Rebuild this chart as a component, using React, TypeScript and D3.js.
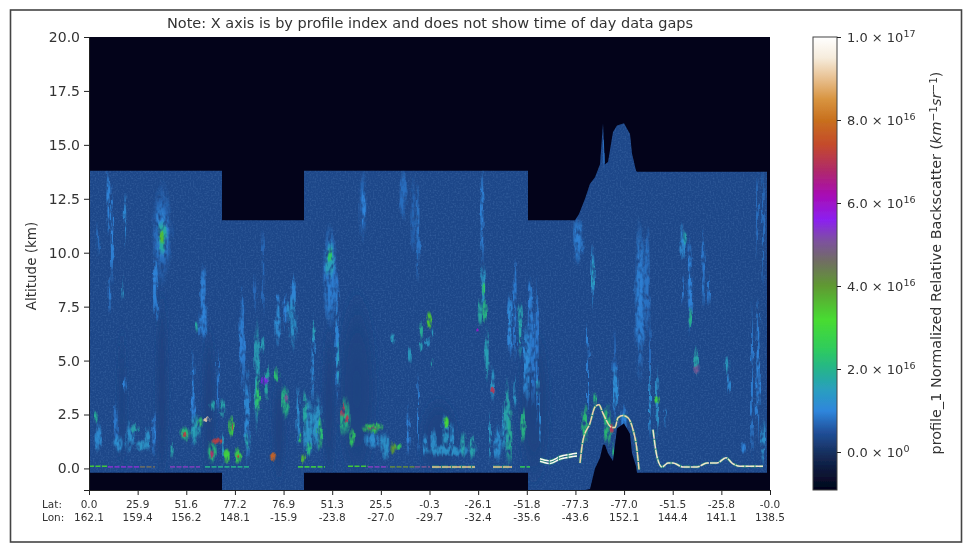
import * as d3 from "d3";
import { useEffect, useRef } from "react";

const titleText =
  "Note: X axis is by profile index and does not show time of day data gaps";

const latLabels = ["0.0", "25.9", "51.6", "77.2", "76.9", "51.3", "25.5", "-0.3", "-26.1", "-51.8", "-77.3", "-77.0", "-51.5", "-25.8", "-0.0"];
const lonLabels = ["162.1", "159.4", "156.2", "148.1", "-15.9", "-23.8", "-27.0", "-29.7", "-32.4", "-35.6", "-43.6", "152.1", "144.4", "141.1", "138.5"];
const altitudeTicks = [0, 2.5, 5, 7.5, 10, 12.5, 15, 17.5, 20];
const colorTicks = [0, 2, 4, 6, 8, 10];

// colormap, values in 1e16
const cmapValues = [-0.9, -0.4, 0, 0.5, 1, 1.5, 2, 2.5, 3.2, 4, 4.6, 5.1, 5.6, 6.2, 6.8, 7.4, 8, 8.5, 9, 9.5, 10];
const cmapColors = ["#03031a", "#0c1a3c", "#17305f", "#20509a", "#2f86dc", "#2a9ec0", "#25b48c", "#2fcc5c", "#48dc30", "#5f9a30", "#706e62", "#7d50a0", "#8c20f0", "#a80cb4", "#b02a68", "#c44a2c", "#c8701e", "#d89440", "#e8c090", "#f6ecdc", "#ffffff"];

// instrument curtain outline: profile index, top and bottom altitude (km)
const curtainProfile = [0, 133, 133, 215, 215, 439, 439, 486, 490, 496, 501, 506, 511, 514, 516, 519, 524, 528, 535, 541, 543, 547, 548, 678];
const curtainTop = [13.8, 13.8, 11.5, 11.5, 13.8, 13.8, 11.5, 11.5, 11.8, 12.5, 13.2, 13.5, 14.1, 16, 14.1, 14.2, 15.6, 15.9, 16, 15.5, 14.6, 13.8, 13.75, 13.75];
const curtainBottom = [-0.2, -0.2, -1, -1, -0.2, -0.2, -1, -1, -1, -1, -0.95, 0, 0.5, 1.1, 1.1, 0.7, 0.35, 1.85, 2.1, 1.6, 0.7, 0.1, -0.2, -0.2];
const curtainValue = 0.36;

// darker columns low in the atmosphere: profile index, base km, top km, width, value
const shadowColumns: [number, number, number, number, number][] = [
  [73, -0.2, 7.5, 9, 0.27], [120, -0.2, 6, 10, 0.28], [33, 0.2, 6, 6, 0.3], [240, -0.2, 6, 10, 0.28],
  [268, -0.2, 7.5, 30, 0.29], [190, -0.2, 4, 10, 0.28], [350, -0.2, 3, 30, 0.3], [445, -0.2, 6, 24, 0.29],
];

// cloud layers: profile index, base km, top km, width in profiles, value (1e16)
const cloudLayers: [number, number, number, number, number][] = [
  [19, 11, 13.7, 3, 1.0], [23, 8.9, 13, 2.5, 1.0], [36, 10.4, 12.6, 2.5, 1.1], [34, 7.9, 8.9, 2, 1.4], [9, 9.9, 11.3, 2.5, 0.75],
  [21, 7.3, 8.9, 2.5, 0.9], [73, 8.9, 12.9, 15, 0.75], [73, 9.8, 12.1, 10, 1.05], [73, 10, 11.4, 7, 1.9], [73, 10.4, 11, 3.5, 3.6], [66, 7.3, 9.8, 4, 1.0],
  [114, 7.3, 9.3, 5, 0.95], [114, 6, 7.8, 7, 1.0], [108, 6.3, 6.8, 3, 1.8], [174, 7.3, 10.9, 2.5, 0.75], [166, 7.3, 8.9, 2.5, 0.75], [153, 7.3, 8.4, 2.5, 0.75],
  [189, 7.3, 8.1, 3, 1.0], [204, 7.3, 8.9, 3.5, 1.05], [196, 6.5, 8, 3, 1.0], [68, 6.9, 7.8, 4, 0.85],
  [36, 3.5, 4.2, 3, 1.0], [27, 1, 3, 3, 0.9], [7, 2.1, 2.7, 3, 1.9], [9, 0.85, 2.1, 6, 1.15], [29, 0.8, 1.5, 8, 1.2], [41, 0.8, 2.1, 6, 1.25], [46, 1.7, 2.1, 6, 1.7],
  [53, 0.8, 1.3, 10, 1.35], [59, 0.85, 1.9, 4, 1.3], [65, 0.7, 2.5, 3, 0.95], [83, 0.5, 1.2, 3, 1.7],
  [96, 1.3, 1.9, 8, 2.2], [96, 1.45, 1.7, 4, 7.2], [104, 1.3, 5.2, 3, 1.0], [106, 1.2, 2.4, 8, 1.6], [111, 1.9, 2.4, 5, 2.4], [118, 2.15, 2.35, 7, 9.2],
  [129, 2.7, 5.3, 2.5, 0.9], [133, 2.4, 3.2, 4, 1.7], [124, 2.7, 3.2, 4, 1.7], [128, 1.15, 1.4, 9, 7.2], [123, 0.25, 1.2, 7, 2.2], [123, 0.5, 0.9, 3, 6.8],
  [143, 1.5, 2.4, 5, 3.0], [143, 1.8, 2.1, 2, 7.0], [138, 0.25, 0.85, 5, 3.0], [149, 0.25, 0.95, 6, 2.8], [149, 0.5, 0.7, 2.5, 7.5], [134, 0.25, 1.6, 3, 1.5],
  [158, 0.5, 4.4, 5, 1.1], [153, 4, 7.8, 5, 0.95], [158, 0.85, 1.6, 4, 1.7], [168, 2.1, 6.5, 5, 1.6], [169, 2.6, 4.2, 4, 2.4], [176, 3.9, 4.2, 6, 5.6], [178, 3.2, 4.7, 3, 1.8],
  [174, 5.35, 6.1, 3, 1.6], [189, 5.8, 7.8, 5, 1.15], [188, 4, 4.7, 4, 2.3], [196, 2.4, 3.8, 6, 2.1], [197, 3, 3.5, 3, 5.0], [204, 5.6, 7.8, 6, 1.3], [199, 6.9, 7.7, 3, 1.2],
  [209, 1.3, 3.6, 3, 1.2], [216, 1.8, 3.6, 4, 1.8], [211, 1.2, 1.6, 3, 2.4], [214, 0.25, 0.7, 4, 3.6], [219, 0.6, 1.2, 3, 2.1], [224, 5.9, 6.9, 3, 1.6],
  [184, 0.35, 0.7, 6, 7.8], [224, 3.3, 6.9, 3, 1.1], [219, 0.7, 3.2, 8, 1.35], [228, 1, 3.2, 8, 1.35], [231, 1, 2.4, 5, 2.3],
  [248, 3.3, 7.8, 3, 1.05], [249, 3.95, 5.9, 2.5, 1.5], [254, 2.4, 3, 4, 7.0], [258, 2.1, 2.5, 3, 7.0], [256, 1.65, 3.2, 8, 2.1], [263, 1, 1.8, 5, 2.5],
  [241, 6.9, 10.9, 11, 0.95], [241, 8.9, 10.4, 8, 1.6], [241, 9.6, 10.2, 4, 2.4], [248, 7.3, 9, 3, 0.9],
  [274, 10.7, 13.7, 6, 0.7], [274, 11.2, 12.9, 3, 1.0], [314, 11.6, 13.7, 6, 0.8], [324, 10.2, 13.2, 5, 0.7], [329, 9, 12.9, 3, 0.85], [393, 9.8, 13.7, 3, 0.95],
  [394, 7.5, 9.3, 4, 1.4], [394, 8.0, 8.6, 3, 2.5], [426, 7.5, 9.5, 3, 0.85], [441, 7.3, 8.8, 4, 0.9],
  [284, 1.65, 2.1, 16, 2.7], [284, 1.8, 1.95, 9, 4.6], [283, 1.0, 1.65, 12, 1.2], [296, 0.5, 1.65, 8, 1.3], [304, 0.7, 1.2, 5, 4.0], [309, 0.9, 1.15, 6, 2.6],
  [321, 4.9, 5.6, 2, 1.5], [304, 5.8, 6.2, 3, 1.5], [319, 0.7, 2.85, 3, 1.0], [329, 0.9, 4.2, 2, 0.95],
  [332, 6, 6.8, 4, 1.9], [340, 6.5, 7.2, 4, 3.4], [332, 5.5, 5.9, 3, 1.6], [339, 5.7, 6.1, 4, 1.4], [343, 4.7, 5.1, 2.5, 1.7], [344, 6.1, 6.6, 2.5, 1.5],
  [336, 0.6, 1.6, 4, 1.2], [345, 0.6, 1.8, 5, 1.25], [356, 1, 2.4, 6, 1.4], [357, 1.9, 2.4, 5, 3.2], [363, 0.6, 2.0, 4, 1.25], [374, 0.6, 1.6, 5, 1.7], [383, 0.5, 1.5, 4, 1.7], [361, 0.6, 1.05, 40, 1.3],
  [391, 6.7, 7.8, 4, 1.8], [396, 6.7, 7.8, 3, 2.1], [388, 6.3, 6.5, 3, 6.0], [398, 4.2, 6.4, 3, 1.6], [404, 3.2, 4.6, 3, 1.4], [404, 3.5, 3.8, 3, 7.0], [401, 0.4, 2.5, 2, 1.4],
  [409, 0.4, 1.9, 6, 1.2], [418, 0.5, 3.9, 4, 1.7], [414, 1, 2.8, 3, 1.4], [426, 2.85, 4.2, 3, 1.4], [421, 0.4, 2.7, 4, 1.9], [434, 1.3, 2.7, 3, 2.1],
  [431, 5.3, 7.5, 4, 1.7], [421, 5.8, 7.8, 3, 1.1], [438, 3.2, 6.4, 5, 1.1], [444, 3.2, 7.8, 3, 0.9],
  [426, 5.3, 9.4, 2.5, 0.9], [421, 5.3, 7.9, 4, 1.0], [431, 5.6, 7.5, 4, 1.5], [436, 3.5, 6.4, 3, 1.1], [441, 4.7, 8.6, 4, 0.95], [448, 2.4, 8.4, 3, 0.9], [449, 3.5, 4.2, 3, 1.5], [451, 1, 3.5, 2, 1.1],
  [489, 9.6, 11.5, 8, 0.95], [504, 7.5, 10.2, 3, 1.15], [504, 8.3, 9.8, 2.5, 1.5], [498, 5.6, 6.7, 2, 1.0], [499, 2.4, 5.6, 2, 1.0], [516, 14, 16, 2, 0.8],
  [551, 4.7, 10.9, 8, 0.95], [558, 6.6, 10.9, 5, 0.85], [561, 1.6, 6.9, 2, 0.8], [526, 2.4, 6.1, 3, 0.8], [526, 2.85, 4.6, 4, 1.15],
  [594, 9.8, 11.2, 5, 1.15], [596, 10.4, 11, 3, 1.7], [601, 6.6, 10.4, 4, 1.0], [601, 6.6, 7.4, 3, 2.0], [614, 7.7, 10.9, 3, 0.9], [620, 7.7, 8.9, 2, 0.9], [594, 7.7, 8.9, 2, 0.9],
  [607, 4.4, 5.6, 4, 1.7], [607, 4.4, 4.8, 5, 5.0], [638, 4.4, 5.2, 4, 1.5], [640, 3.5, 4.4, 2, 1.1],
  [663, 0.85, 7.3, 2, 0.95], [669, 1.65, 7.5, 3, 1.0], [674, 0.25, 2.1, 4, 1.25], [654, 0.75, 1.2, 6, 1.0], [668, 10, 13.6, 2, 0.8], [674, 8.7, 13.6, 2, 0.8],
  [561, 1.65, 4.7, 2, 1.2], [568, 1.65, 4.6, 2.5, 1.3], [568, 3.0, 3.4, 5, 3.0], [576, 1.9, 2.7, 2, 1.15], [535, 1.6, 2.85, 5, 1.0],
  [496, 1.3, 2.85, 5, 2.3], [506, 2.85, 3.5, 3, 2.2], [519, 1.2, 2.85, 7, 2.3], [522, 1.7, 2.1, 3, 7.0], [524, 0.5, 1.2, 2, 2.2], [526, 2.85, 4.7, 4, 1.15],
];

// bright surface returns: profile index / altitude pairs with their value
const surfaceTraces: { profiles: number[]; altitudes: number[]; value: number }[] = [
  { profiles: [0, 19], altitudes: [0.1, 0.1], value: 3.2 },
  { profiles: [19, 51], altitudes: [0.07, 0.07], value: 5.4 },
  { profiles: [51, 66], altitudes: [0.07, 0.07], value: 4.6 },
  { profiles: [81, 111], altitudes: [0.07, 0.07], value: 5.3 },
  { profiles: [116, 161], altitudes: [0.07, 0.07], value: 2.0 },
  { profiles: [209, 236], altitudes: [0.07, 0.07], value: 3.0 },
  { profiles: [259, 279], altitudes: [0.1, 0.1], value: 3.2 },
  { profiles: [279, 299], altitudes: [0.07, 0.07], value: 5.3 },
  { profiles: [301, 326], altitudes: [0.07, 0.07], value: 4.2 },
  { profiles: [326, 341], altitudes: [0.07, 0.07], value: 5.0 },
  { profiles: [343, 386], altitudes: [0.07, 0.07], value: 9.0 },
  { profiles: [404, 423], altitudes: [0.07, 0.07], value: 9.0 },
  { profiles: [431, 441], altitudes: [0.07, 0.07], value: 2.6 },
  { profiles: [451, 461, 471, 481, 488], altitudes: [0.45, 0.35, 0.55, 0.65, 0.7], value: 9.8 },
  { profiles: [451, 461, 471, 481, 488], altitudes: [0.33, 0.23, 0.43, 0.53, 0.58], value: 9.8 },
  { profiles: [491, 494, 501, 506, 510, 514, 523, 526, 529, 534, 539, 544, 548, 550], altitudes: [0.25, 1.3, 2.1, 2.85, 2.95, 2.55, 1.9, 1.9, 2.35, 2.45, 2.35, 1.8, 0.85, -0.05], value: 9.2 },
  { profiles: [564, 568, 573, 579, 584, 594, 608, 618, 628, 637, 643, 651, 674], altitudes: [1.8, 0.55, 0.07, 0.25, 0.25, 0.07, 0.07, 0.25, 0.25, 0.5, 0.25, 0.1, 0.1], value: 9.4 },
];

const App = () => {
  const svgRef = useRef<SVGSVGElement>(null);

  useEffect(() => {
    const width = 972;
    const height = 550;
    const plotLeft = 89;
    const plotRight = 770;
    const plotTop = 37;
    const plotBottom = 490;
    const textColor = "#333";

    const svg = d3.select(svgRef.current);
    svg.selectAll("*").remove();
    svg.attr("font-family", "'DejaVu Sans', sans-serif").attr("fill", textColor);

    const x = d3.scaleLinear().domain([0, 681]).range([plotLeft, plotRight]);
    const y = d3.scaleLinear().domain([-1, 20]).range([plotBottom, plotTop]);
    const c = d3.scaleLinear().domain([0, 10]).range([452, 37]);
    const cmap = d3
      .scaleLinear<string>()
      .domain(cmapValues)
      .range(cmapColors)
      .clamp(true);

    const defs = svg.append("defs");
    const plotRegion = (f: any) =>
      f
        .attr("filterUnits", "userSpaceOnUse")
        .attr("x", 0)
        .attr("y", 0)
        .attr("width", width)
        .attr("height", height);

    plotRegion(defs.append("filter").attr("id", "softText"))
      .append("feGaussianBlur")
      .attr("stdDeviation", 0.3);

    plotRegion(defs.append("filter").attr("id", "traceBlur"))
      .append("feGaussianBlur")
      .attr("stdDeviation", 0.45);

    plotRegion(defs.append("filter").attr("id", "shadowBlur"))
      .append("feGaussianBlur")
      .attr("stdDeviation", 2);

    // breaks the soft blobs up into streaky, grainy cloud returns
    const cloudFx = plotRegion(defs.append("filter").attr("id", "cloudFx"));
    cloudFx
      .append("feTurbulence")
      .attr("type", "fractalNoise")
      .attr("baseFrequency", "0.3 0.05")
      .attr("numOctaves", 2)
      .attr("seed", 7)
      .attr("result", "warp");
    cloudFx
      .append("feDisplacementMap")
      .attr("in", "SourceGraphic")
      .attr("in2", "warp")
      .attr("scale", 6)
      .attr("xChannelSelector", "R")
      .attr("yChannelSelector", "G")
      .attr("result", "warped");
    cloudFx
      .append("feTurbulence")
      .attr("type", "fractalNoise")
      .attr("baseFrequency", "0.28 0.14")
      .attr("numOctaves", 2)
      .attr("seed", 3);
    cloudFx
      .append("feColorMatrix")
      .attr("values", "0 0 0 0 1  0 0 0 0 1  0 0 0 0 1  3 0 0 0 -0.65")
      .attr("result", "grain");
    cloudFx
      .append("feComposite")
      .attr("in", "warped")
      .attr("in2", "grain")
      .attr("operator", "in");
    cloudFx.append("feGaussianBlur").attr("stdDeviation", 0.5);

    const speckle = plotRegion(defs.append("filter").attr("id", "speckle"));
    speckle
      .append("feTurbulence")
      .attr("type", "fractalNoise")
      .attr("baseFrequency", 0.6)
      .attr("numOctaves", 1)
      .attr("seed", 4);
    speckle
      .append("feColorMatrix")
      .attr("values", "0 0 0 0 0.3  0 0 0 0 0.55  0 0 0 0 0.9  1.4 0 0 0 -0.62");
    speckle.append("feGaussianBlur").attr("stdDeviation", 0.5);

    const gradient = defs
      .append("linearGradient")
      .attr("id", "cbar")
      .attr("x1", 0)
      .attr("x2", 0)
      .attr("y1", 1)
      .attr("y2", 0);
    cmapValues.forEach((v, i) => {
      gradient
        .append("stop")
        .attr("offset", (v + 0.9) / 10.9)
        .attr("stop-color", cmapColors[i]);
    });

    // one fading fill per cloud value
    const cloudMarks = [...shadowColumns, ...cloudLayers].sort((a, b) => a[4] - b[4]);
    const fadeId = (v: number) => `fade${Math.round(v * 100)}`;
    Array.from(new Set(cloudMarks.map((d) => d[4]))).forEach((v) => {
      const g = defs.append("radialGradient").attr("id", fadeId(v));
      g.append("stop").attr("offset", 0).attr("stop-color", cmap(v));
      g.append("stop").attr("offset", 0.55).attr("stop-color", cmap(v)).attr("stop-opacity", 0.85);
      g.append("stop").attr("offset", 1).attr("stop-color", cmap(v)).attr("stop-opacity", 0);
    });

    defs
      .append("clipPath")
      .attr("id", "plotClip")
      .append("rect")
      .attr("x", plotLeft)
      .attr("y", plotTop)
      .attr("width", plotRight - plotLeft)
      .attr("height", plotBottom - plotTop);

    // outer border of the screenshot
    svg
      .append("rect")
      .attr("x", 10.5)
      .attr("y", 10)
      .attr("width", 951)
      .attr("height", 532)
      .attr("fill", "white")
      .attr("stroke", "#444")
      .attr("stroke-width", 1.6);

    const plot = svg.append("g").attr("clip-path", "url(#plotClip)");
    plot
      .append("rect")
      .attr("x", plotLeft)
      .attr("y", plotTop)
      .attr("width", plotRight - plotLeft)
      .attr("height", plotBottom - plotTop)
      .attr("fill", cmap(-0.9));

    const curtainArea = d3
      .area<number>()
      .x((d) => x(d))
      .y0((_, i) => y(curtainBottom[i]))
      .y1((_, i) => y(curtainTop[i]));

    plot
      .append("path")
      .attr("d", curtainArea(curtainProfile))
      .attr("fill", cmap(curtainValue));

    defs
      .append("clipPath")
      .attr("id", "curtainClip")
      .append("path")
      .attr("d", curtainArea(curtainProfile));

    const inside = plot.append("g").attr("clip-path", "url(#curtainClip)");

    // noisy daytime part of the orbit
    inside
      .append("g")
      .attr("filter", "url(#speckle)")
      .attr("opacity", 0.3)
      .append("rect")
      .attr("x", x(500))
      .attr("y", plotTop)
      .attr("width", x(681) - x(500))
      .attr("height", plotBottom - plotTop);

    const cloudMark = (g: any, data: typeof cloudMarks) =>
      g
        .selectAll("ellipse")
        .data(data)
        .join("ellipse")
        .attr("cx", (d: any) => x(d[0]))
        .attr("cy", (d: any) => y((d[1] + d[2]) / 2))
        .attr("rx", (d: any) => (x(d[3]) - x(0)) * 0.72)
        .attr("ry", (d: any) => ((y(d[1]) - y(d[2])) / 2) * 1.25)
        .attr("fill", (d: any) => `url(#${fadeId(d[4])})`);

    cloudMark(inside.append("g").attr("filter", "url(#shadowBlur)"), shadowColumns);
    cloudMark(inside.append("g").attr("filter", "url(#cloudFx)"), cloudLayers.slice().sort((a, b) => a[4] - b[4]));

    const traceLine = d3
      .line<number>()
      .x((d) => x(d))
      .curve(d3.curveMonotoneX);

    const traces = plot.append("g").attr("filter", "url(#traceBlur)").attr("fill", "none");
    surfaceTraces.forEach((t) => {
      const path = traceLine.y((_, i) => y(t.altitudes[i]))(t.profiles);
      if (t.value > 8) {
        traces
          .append("path")
          .attr("d", path)
          .attr("stroke", cmap(2.4))
          .attr("stroke-width", 2.6)
          .attr("stroke-opacity", 0.5)
          .attr("stroke-dasharray", "7 2");
      }
      traces
        .append("path")
        .attr("d", path)
        .attr("stroke", cmap(t.value))
        .attr("stroke-width", t.value > 8 ? 1.5 : 1.7)
        .attr("stroke-opacity", t.value > 8 ? 1 : 0.85)
        .attr("stroke-dasharray", t.value > 8 ? "9 1" : "5 1.5");
    });

    // axes
    const chrome = svg.append("g").attr("filter", "url(#softText)");

    const tickStep = 681 / 14;
    const xAxis = d3
      .axisBottom(x)
      .tickValues(latLabels.map((_, i) => i * tickStep))
      .tickSize(5)
      .tickFormat(() => "");
    const xg = chrome.append("g").attr("transform", `translate(0,${plotBottom})`).call(xAxis);
    xg.select(".domain").attr("stroke", "#222");
    xg.selectAll(".tick line").attr("stroke", "#222");

    latLabels.forEach((lat, i) => {
      const px = x(i * tickStep);
      chrome
        .append("text")
        .attr("x", px)
        .attr("y", 508)
        .attr("text-anchor", "middle")
        .attr("font-size", 10.5)
        .text(lat);
      chrome
        .append("text")
        .attr("x", px)
        .attr("y", 521)
        .attr("text-anchor", "middle")
        .attr("font-size", 10.5)
        .text(lonLabels[i]);
    });
    chrome.append("text").attr("x", 42).attr("y", 508).attr("font-size", 10.5).text("Lat:");
    chrome.append("text").attr("x", 42).attr("y", 521).attr("font-size", 10.5).text("Lon:");

    const yAxis = d3
      .axisLeft(y)
      .tickValues(altitudeTicks)
      .tickSize(5)
      .tickPadding(4)
      .tickFormat((d) => d3.format(".1f")(d as number));
    const yg = chrome.append("g").attr("transform", `translate(${plotLeft},0)`).call(yAxis);
    yg.selectAll("text")
      .attr("font-size", 14)
      .attr("font-family", "'DejaVu Sans', sans-serif")
      .attr("fill", textColor);
    yg.select(".domain").attr("stroke", "#222");
    yg.selectAll(".tick line").attr("stroke", "#222");

    chrome
      .append("text")
      .attr("transform", `translate(36,266) rotate(-90)`)
      .attr("text-anchor", "middle")
      .attr("font-size", 13.5)
      .text("Altitude (km)");

    chrome
      .append("text")
      .attr("x", 430)
      .attr("y", 28)
      .attr("text-anchor", "middle")
      .attr("font-size", 14.5)
      .text(titleText);

    // colorbar
    const barLeft = 813;
    const barRight = 837;
    chrome
      .append("rect")
      .attr("x", barLeft)
      .attr("y", plotTop)
      .attr("width", barRight - barLeft)
      .attr("height", plotBottom - plotTop)
      .attr("fill", "url(#cbar)")
      .attr("stroke", "#444")
      .attr("stroke-width", 1);

    const colorAxis = d3
      .axisRight(c)
      .tickValues(colorTicks)
      .tickSize(4)
      .tickFormat(() => "");
    const cg = chrome
      .append("g")
      .attr("transform", `translate(${barRight},0)`)
      .call(colorAxis);
    cg.select(".domain").remove();
    cg.selectAll(".tick line").attr("stroke", "#222");

    colorTicks.forEach((v) => {
      const mantissa = v === 10 ? "1.0" : v === 0 ? "0.0" : `${v}.0`;
      const exponent = v === 10 ? "17" : v === 0 ? "0" : "16";
      const label = chrome
        .append("text")
        .attr("x", 847)
        .attr("y", c(v) + 5)
        .attr("font-size", 13);
      label.append("tspan").text(`${mantissa} × 10`);
      label.append("tspan").attr("dy", -5).attr("font-size", 9.5).text(exponent);
    });

    const cbLabel = chrome
      .append("text")
      .attr("transform", `translate(941,263) rotate(-90)`)
      .attr("text-anchor", "middle")
      .attr("font-size", 14.4);
    cbLabel.append("tspan").text("profile_1 Normalized Relative Backscatter (");
    cbLabel.append("tspan").attr("font-style", "italic").text("km");
    cbLabel.append("tspan").attr("dy", -4).attr("font-size", 10.5).text("−1");
    cbLabel.append("tspan").attr("dy", 4).attr("font-style", "italic").text("sr");
    cbLabel.append("tspan").attr("dy", -4).attr("font-size", 10.5).text("−1");
    cbLabel.append("tspan").attr("dy", 4).text(")");

    svg.attr("width", width).attr("height", height);
  }, []);

  return (
    <svg
      ref={svgRef}
      style={{ position: "absolute", left: 0, top: 0, display: "block" }}
    />
  );
};

export default App;
